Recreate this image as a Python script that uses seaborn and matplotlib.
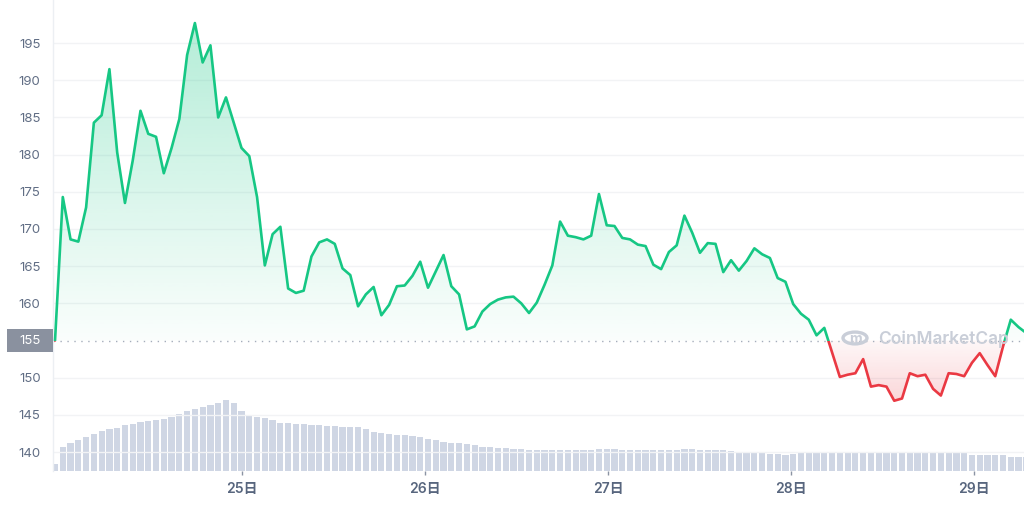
import numpy as np
import pandas as pd
import matplotlib
matplotlib.use("Agg")
import matplotlib.pyplot as plt
import matplotlib.transforms as mtransforms
import seaborn as sns
from matplotlib.colors import to_rgb
from matplotlib.path import Path
from matplotlib.patches import Rectangle, Circle

# hourly-ish price samples
price = [
    155.0, 174.3, 168.6, 168.3, 172.9, 184.3, 185.3, 191.5, 180.3, 173.5,
    179.2, 185.9, 182.8, 182.4, 177.5, 180.9, 184.8, 193.4, 197.7, 192.4,
    194.7, 185.0, 187.7, 184.3, 180.9, 179.8, 174.3, 165.1, 169.3, 170.3,
    162.0, 161.4, 161.7, 166.3, 168.2, 168.6, 168.0, 164.7, 163.8, 159.6,
    161.2, 162.2, 158.4, 159.8, 162.3, 162.4, 163.7, 165.6, 162.1, 164.3,
    166.5, 162.3, 161.2, 156.5, 156.9, 158.9, 159.9, 160.5, 160.8, 160.9,
    160.0, 158.7, 160.1, 162.5, 165.1, 171.0, 169.1, 168.9, 168.6, 169.1,
    174.7, 170.5, 170.4, 168.8, 168.6, 167.9, 167.7, 165.2, 164.6, 166.9,
    167.8, 171.8, 169.5, 166.8, 168.1, 168.0, 164.2, 165.8, 164.4, 165.7,
    167.4, 166.6, 166.1, 163.4, 162.9, 159.9, 158.6, 157.8, 155.7, 156.7,
    153.4, 150.1, 150.4, 150.6, 152.5, 148.8, 149.0, 148.8, 146.9, 147.2,
    150.6, 150.2, 150.4, 148.5, 147.6, 150.6, 150.5, 150.2, 152.0, 153.3,
    151.7, 150.2, 154.2, 157.8, 156.8, 156.0,
]

volume = [
    7.3, 24.3, 28.0, 30.7, 34.0, 37.3, 40.0, 42.0, 43.3, 45.7,
    47.0, 48.7, 50.0, 51.3, 52.0, 53.7, 57.0, 60.3, 62.3, 64.3,
    66.3, 67.7, 70.7, 67.7, 59.7, 55.3, 54.0, 52.7, 50.7, 48.5,
    48.0, 47.5, 46.8, 46.3, 45.6, 45.0, 44.6, 44.0, 44.5, 44.0,
    41.8, 39.5, 38.0, 36.8, 36.2, 36.0, 35.3, 33.7, 31.8, 31.0,
    29.2, 28.4, 28.2, 27.0, 25.7, 24.2, 24.0, 23.5, 23.0, 22.5,
    22.3, 21.0, 21.0, 21.0, 21.4, 21.4, 21.0, 20.7, 20.7, 21.0,
    22.4, 22.2, 21.7, 21.4, 21.0, 21.0, 21.0, 20.7, 21.0, 21.0,
    21.0, 21.7, 21.7, 21.4, 21.4, 21.4, 21.0, 19.7, 19.4, 18.7,
    18.0, 17.7, 17.4, 17.0, 16.0, 17.2, 17.8, 18.2, 18.4, 18.6,
    18.8, 19.0, 19.0, 19.0, 19.0, 18.8, 18.8, 18.8, 18.8, 18.8,
    18.8, 19.0, 19.0, 19.0, 19.0, 19.0, 18.7, 18.5, 16.5, 16.3,
    16.3, 16.2, 16.0, 14.5, 14.4, 14.4,
]

base_price = 155
y_ticks = [140, 145, 150, 160, 165, 170, 175, 180, 185, 190, 195]
day_pos = [24.1, 47.65, 71.2, 94.75, 118.3]
day_labels = ["25日", "26日", "27日", "28日", "29日"]

green = "#16c784"
red = "#ea3943"

df = pd.DataFrame({"t": np.arange(len(price)), "price": price, "volume": volume})

sns.set_theme(style="white")
plt.rcParams["font.family"] = ["Inter", "Noto Sans CJK JP", "DejaVu Sans"]

W, H = 1024, 505
fig = plt.figure(figsize=(W / 100, H / 100), dpi=100)
rect = [53 / W, 34 / H, 971 / W, 471 / H]
axv = fig.add_axes(rect)
ax = fig.add_axes(rect, sharex=axv)
ax.patch.set_visible(False)

# volume bars underneath
sns.barplot(data=df, x="t", y="volume", native_scale=True, color="#cfd6e4",
            saturation=1, width=0.8, linewidth=0, errorbar=None, ax=axv)
axv.set_ylim(0, 471)
axv.set_axis_off()

# price line, green above the reference price, red below
sns.lineplot(data=df, x="t", y="price", color=green, lw=1.9, ax=ax)
sns.lineplot(data=df, x="t", y="price", color=red, lw=1.9, ax=ax)
up_line, down_line = ax.get_lines()[:2]
up_line.set_clip_path(Rectangle((-10, base_price), 300, 100, transform=ax.transData))
down_line.set_clip_path(Rectangle((-10, base_price - 100), 300, 100, transform=ax.transData))
for ln in (up_line, down_line):
    ln.set_solid_joinstyle("round")
    ln.set_zorder(4)

t = df["t"].to_numpy()
p = df["price"].to_numpy()


def gradient_fill(mask, color, lo, hi, a_lo, a_hi):
    coll = ax.fill_between(t, p, base_price, where=mask, interpolate=True, alpha=0)
    path = Path.make_compound_path(*coll.get_paths())
    rgba = np.zeros((256, 1, 4))
    rgba[..., :3] = to_rgb(color)
    rgba[:, 0, 3] = np.linspace(a_lo, a_hi, 256)
    im = ax.imshow(rgba, extent=[t[0], t[-1], lo, hi], origin="lower",
                   aspect="auto", zorder=1, interpolation="bilinear")
    im.set_clip_path(path, transform=ax.transData)


gradient_fill(p >= base_price, green, base_price, 199, 0.02, 0.33)
gradient_fill(p <= base_price, red, 146, base_price, 0.22, 0.04)

ax.axhline(base_price, color="#a5adbb", lw=1, ls=(0, (1, 4)), zorder=2)

ax.set_xlim(-0.26, 124.7)
ax.set_ylim(137.45, 200.8)
ax.set_xlabel("")
ax.set_ylabel("")

ax.set_yticks(y_ticks)
ax.set_yticklabels([str(v) for v in y_ticks])
ax.grid(axis="y", color="#f2f3f5", lw=1)
ax.grid(axis="x", visible=False)
ax.set_xticks(day_pos)
ax.set_xticklabels(day_labels)
ax.tick_params(axis="y", length=0, pad=9, labelsize=9.5, labelcolor="#616e85")
ax.tick_params(axis="x", length=3, width=1, color="#8a93a3", pad=5,
               labelsize=10, labelcolor="#58667e", bottom=True)
for lbl in ax.get_xticklabels():
    lbl.set_fontweight("semibold")

for side in ["top", "right", "bottom"]:
    ax.spines[side].set_visible(False)
ax.spines["left"].set_color("#eceff3")
ax.spines["left"].set_linewidth(1)

# reference price tag on the y axis
trans = mtransforms.blended_transform_factory(fig.transFigure, ax.transData)
box_h = 23 / 7.436
ax.add_patch(Rectangle((7 / W, base_price - box_h / 2), 46 / W, box_h, transform=trans,
                       fc="#8a919f", ec="none", clip_on=False, zorder=6))
ax.text(30 / W, base_price, str(base_price), transform=trans, ha="center", va="center",
        color="white", fontsize=9.5, zorder=7, clip_on=False)

# watermark
ax.add_patch(Circle((855 / W, (H - 338) / H), 12 / W, transform=fig.transFigure,
                    fill=False, ec="#c9ced8", lw=2.4, zorder=3))
fig.text(855 / W, (H - 339) / H, "m", ha="center", va="center", fontsize=10,
         fontweight="bold", color="#c9ced8", zorder=3)
fig.text(878 / W, (H - 339) / H, "CoinMarketCap", ha="left", va="center",
         fontsize=12.5, fontweight="semibold", color="#c9ced8", zorder=3)

fig.savefig("out.png", dpi=100)
plt.close(fig)
